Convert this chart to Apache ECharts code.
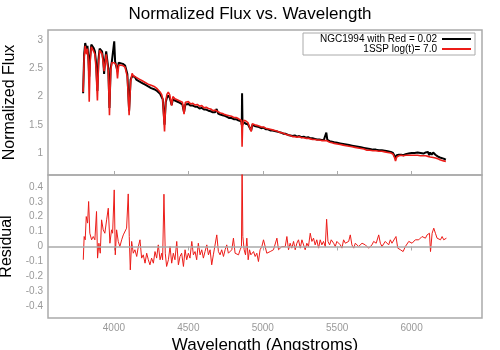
<!DOCTYPE html>
<html>
<head>
<meta charset="utf-8">
<script src="https://cdn.jsdelivr.net/npm/echarts@6/dist/echarts.min.js"></script>
<style>
  html, body { margin: 0; padding: 0; background: #fff; }
  #chart { width: 500px; height: 350px; }
</style>
</head>
<body>
<div id="chart"></div>
<script>
// spectrum sample points (Angstroms)
const wavelength = [3793, 3800, 3807, 3815, 3822, 3828, 3834, 3840, 3848, 3856, 3864, 3872, 3880, 3889, 3896, 3904, 3912, 3920, 3928, 3934, 3940, 3948, 3955, 3962, 3970, 3978, 3986, 3995, 4002, 4008, 4016, 4024, 4032, 4045, 4060, 4075, 4090, 4102,
  4112, 4122, 4130, 4140, 4150, 4160, 4170, 4180, 4190, 4200, 4210, 4220, 4230, 4240, 4250, 4260, 4270, 4280, 4290, 4300, 4310, 4320, 4328, 4340, 4348, 4356, 4365,
  4375, 4388, 4396, 4410, 4420, 4435, 4445, 4460, 4471, 4480, 4490, 4500, 4515, 4530, 4545, 4560, 4575, 4590, 4605, 4620, 4635, 4650, 4665, 4680, 4690, 4700, 4715, 4730, 4745, 4760, 4775, 4790, 4805, 4820, 4835, 4845, 4855, 4859, 4861, 4864, 4870, 4878, 4885, 4892, 4900, 4910, 4922, 4930, 4945, 4960, 4975, 4990,
  5005, 5020, 5035, 5050, 5065, 5080, 5095, 5110, 5125, 5140, 5155, 5170, 5185, 5200, 5215, 5230, 5245, 5260, 5275, 5290, 5305, 5320, 5335, 5350, 5365, 5380, 5395, 5410, 5420, 5427, 5434, 5450, 5465, 5480,
  5500, 5520, 5540, 5560, 5580, 5600, 5620, 5640, 5660, 5680, 5700, 5720, 5740, 5760, 5780, 5800, 5820, 5840, 5860, 5875, 5885, 5892, 5900, 5915, 5930, 5945, 5960, 5980,
  6000, 6020, 6040, 6060, 6080, 6095, 6110, 6118, 6125, 6135, 6145, 6160, 6175, 6190, 6200, 6215, 6230];
// NGC1994 observed flux
const observed = [2.06, 2.75, 2.95, 2.85, 2.90, 2.70, 2.35, 2.70, 2.92, 2.90, 2.86, 2.80, 2.60, 2.10, 2.65, 2.85, 2.86, 2.80, 2.65, 2.40, 2.62, 2.80, 2.77, 2.50, 1.80, 2.50, 2.62, 2.65, 2.98, 2.62, 2.60, 2.45, 2.60, 2.60, 2.58, 2.55, 2.40, 1.75,
  2.30, 2.36, 2.33, 2.35, 2.30, 2.31, 2.27, 2.28, 2.24, 2.25, 2.21, 2.22, 2.18, 2.19, 2.15, 2.16, 2.13, 2.12, 2.10, 2.09, 2.05, 2.02, 1.95, 1.50, 1.90, 1.98, 2.02,
  1.98, 1.85, 1.95, 1.93, 1.92, 1.90, 1.91, 1.86, 1.72, 1.86, 1.85, 1.87, 1.84, 1.84, 1.82, 1.82, 1.79, 1.80, 1.77, 1.77, 1.75, 1.74, 1.72, 1.72, 1.78, 1.70, 1.68, 1.67, 1.66, 1.64, 1.62, 1.62, 1.60, 1.60, 1.58, 1.57, 1.56, 1.50, 2.06, 1.50, 1.55, 1.53, 1.52, 1.54, 1.51, 1.50, 1.40, 1.50, 1.48, 1.47, 1.46, 1.44,
  1.45, 1.42, 1.42, 1.40, 1.40, 1.39, 1.38, 1.37, 1.36, 1.34, 1.34, 1.32, 1.31, 1.30, 1.31, 1.29, 1.30, 1.28, 1.29, 1.27, 1.28, 1.26, 1.26, 1.25, 1.24, 1.24, 1.23, 1.23, 1.24, 1.36, 1.23, 1.21, 1.20, 1.19,
  1.18, 1.17, 1.16, 1.15, 1.14, 1.13, 1.12, 1.11, 1.10, 1.09, 1.08, 1.07, 1.06, 1.06, 1.05, 1.05, 1.04, 1.03, 1.02, 1.00, 0.95, 0.91, 0.96, 0.97, 0.97, 0.96, 0.98, 0.99,
  1.00, 1.00, 1.01, 1.00, 0.99, 1.01, 1.02, 0.96, 1.01, 0.97, 1.01, 0.97, 0.94, 0.92, 0.91, 0.90, 0.88];
// 1SSP log(t)=7.0 model flux
const model = [2.08, 2.70, 2.90, 2.75, 2.85, 2.65, 1.91, 2.60, 2.88, 2.86, 2.80, 2.75, 2.50, 1.93, 2.55, 2.82, 2.84, 2.76, 2.60, 2.45, 2.58, 2.75, 2.72, 2.45, 1.67, 2.45, 2.60, 2.62, 2.60, 2.60, 2.56, 2.32, 2.56, 2.57, 2.55, 2.52, 2.35, 1.67,
  2.25, 2.41, 2.37, 2.39, 2.34, 2.35, 2.31, 2.32, 2.28, 2.29, 2.25, 2.26, 2.22, 2.23, 2.20, 2.19, 2.18, 2.15, 2.14, 2.12, 2.08, 2.04, 1.96, 1.38, 1.92, 2.04, 2.08,
  2.03, 1.84, 2.00, 1.96, 1.97, 1.93, 1.95, 1.90, 1.69, 1.90, 1.88, 1.91, 1.87, 1.88, 1.85, 1.86, 1.83, 1.84, 1.80, 1.81, 1.79, 1.78, 1.75, 1.76, 1.74, 1.73, 1.71, 1.70, 1.68, 1.67, 1.66, 1.65, 1.63, 1.63, 1.61, 1.60, 1.58, 1.45, 1.11, 1.45, 1.58, 1.56, 1.57, 1.55, 1.54, 1.52, 1.38, 1.52, 1.50, 1.49, 1.48, 1.46,
  1.46, 1.44, 1.43, 1.42, 1.41, 1.40, 1.39, 1.37, 1.36, 1.35, 1.33, 1.32, 1.31, 1.29, 1.29, 1.28, 1.29, 1.27, 1.27, 1.26, 1.26, 1.25, 1.24, 1.24, 1.23, 1.23, 1.22, 1.22, 1.22, 1.22, 1.21, 1.19, 1.18, 1.17,
  1.16, 1.15, 1.14, 1.13, 1.12, 1.11, 1.10, 1.09, 1.08, 1.07, 1.05, 1.05, 1.04, 1.04, 1.03, 1.03, 1.02, 1.01, 1.00, 0.98, 0.92, 0.86, 0.93, 0.95, 0.96, 0.95, 0.96, 0.96,
  0.96, 0.96, 0.96, 0.95, 0.95, 0.95, 0.94, 0.94, 0.93, 0.92, 0.92, 0.91, 0.90, 0.88, 0.87, 0.86, 0.85];

// residual sample points
const residWavelength = [3794, 3800, 3807, 3814, 3823, 3830, 3838, 3850, 3861, 3872, 3883, 3890, 3899, 3908, 3917, 3928, 3939, 3951, 3962, 3973, 3984, 3991, 4002, 4009, 4018, 4029, 4040, 4052, 4063, 4074, 4085, 4096, 4103, 4110, 4119, 4130, 4141, 4153, 4164, 4175, 4186, 4197, 4209, 4220, 4231, 4242, 4253, 4265, 4276, 4287, 4298, 4310, 4321, 4327, 4336, 4345, 4354, 4366, 4377, 4388, 4399, 4410, 4422, 4433, 4444, 4455, 4467, 4478, 4489, 4500, 4511, 4523, 4534, 4545, 4556, 4567, 4579, 4590, 4601, 4612, 4624, 4635, 4646, 4657, 4668, 4680, 4691, 4702, 4713, 4724, 4736, 4747, 4758, 4769, 4781, 4792, 4803, 4814, 4826, 4837, 4848, 4857, 4861, 4866, 4875, 4884, 4893, 4902, 4911, 4920, 4929, 4938, 4949, 4960, 4971, 4982, 4994, 5005, 5016, 5027, 5039, 5050, 5061, 5072, 5083, 5095, 5106, 5117, 5128, 5140, 5151, 5162, 5173, 5184, 5195, 5207, 5218, 5229, 5240, 5252, 5263, 5274, 5285, 5296, 5307, 5319, 5330, 5341, 5352, 5363, 5375, 5386, 5397, 5408, 5420, 5429, 5438, 5449, 5460, 5476, 5487, 5498, 5510, 5521, 5532, 5543, 5555, 5566, 5577, 5588, 5599, 5611, 5622, 5633, 5644, 5655, 5667, 5678, 5689, 5700, 5711, 5723, 5734, 5745, 5762, 5779, 5790, 5801, 5812, 5823, 5835, 5846, 5857, 5868, 5880, 5895, 5907, 5925, 5943, 5958, 5970, 5981, 5992, 6003, 6014, 6025, 6037, 6048, 6059, 6070, 6082, 6093, 6104, 6120, 6127, 6138, 6149, 6160, 6171, 6182, 6194, 6205, 6216, 6234];
const residual = [-0.089, 0.067, 0.045, 0.201, 0.157, 0.302, 0.089, 0.045, 0.067, 0.045, 0.235, -0.078, 0.022, -0.045, 0.179, 0.112, 0.089, 0.179, 0.257, 0.022, 0.112, 0.089, 0.380, -0.056, 0.112, 0.034, 0.000, 0.045, 0.078, 0.089, 0.123, 0.353, 0.067, -0.157, 0.034, -0.045, -0.022, -0.067, 0.000, 0.045, -0.078, -0.056, -0.112, -0.045, -0.089, -0.123, -0.078, -0.112, -0.034, -0.078, 0.011, -0.089, -0.045, -0.089, 0.351, -0.045, -0.134, -0.089, 0.000, -0.112, -0.045, -0.089, 0.034, -0.123, -0.067, -0.045, -0.134, -0.022, -0.089, -0.045, -0.078, 0.034, -0.056, -0.034, -0.089, 0.022, -0.056, -0.022, -0.078, -0.034, 0.011, -0.056, -0.022, -0.123, -0.056, -0.045, 0.078, -0.034, -0.056, -0.022, -0.067, -0.022, 0.011, -0.045, -0.056, -0.022, 0.056, -0.045, -0.034, -0.056, -0.022, 0.000, 0.620, 0.067, -0.022, -0.056, 0.056, -0.089, -0.022, -0.056, -0.045, -0.034, -0.067, -0.045, -0.101, -0.022, 0.000, 0.045, 0.034, -0.045, -0.056, -0.034, -0.045, -0.022, -0.022, 0.056, -0.022, -0.011, 0.000, 0.011, 0.000, 0.067, -0.022, 0.022, -0.011, 0.034, -0.022, 0.022, 0.045, -0.011, 0.045, 0.034, -0.022, 0.022, 0.000, 0.089, 0.034, 0.056, 0.011, 0.045, -0.011, 0.045, 0.011, 0.034, 0.000, 0.183, 0.034, 0.011, 0.045, 0.022, 0.000, 0.034, 0.022, 0.011, -0.011, 0.045, 0.022, 0.011, 0.034, 0.078, 0.011, -0.011, 0.022, 0.034, 0.000, 0.000, 0.022, 0.034, 0.011, 0.022, -0.011, 0.000, 0.011, 0.034, 0.022, 0.078, 0.022, 0.000, 0.011, 0.034, 0.034, 0.011, 0.045, 0.022, 0.011, 0.067, -0.011, -0.022, -0.034, 0.000, -0.011, 0.034, 0.045, 0.022, 0.034, 0.045, 0.056, 0.045, 0.056, 0.067, 0.067, 0.056, 0.078, 0.089, -0.034, 0.089, 0.123, 0.089, 0.056, 0.067, 0.045, 0.067, 0.045, 0.056];

const xTicks = [4000, 4500, 5000, 5500, 6000];
const fluxTicks = [1, 1.5, 2, 2.5, 3];
const residTicks = [-0.4, -0.3, -0.2, -0.1, 0, 0.1, 0.2, 0.3, 0.4];

const pairs = (xs, ys) => xs.map((x, i) => [x, ys[i]]);

const FONT = '"Liberation Sans", Arial, sans-serif';
const GREY = '#aaaaaa';
const RED = '#ec1c18';

const chart = echarts.init(document.getElementById('chart'), null, { renderer: 'canvas' });

const axisBase = {
  axisLine: { show: false },
  splitLine: { show: false },
};
const plainLabel = v => String(v);

chart.setOption({
  animation: false,
  textStyle: { fontFamily: FONT },
  title: {
    text: 'Normalized Flux vs. Wavelength',
    left: 'center',
    top: 1,
    textStyle: { fontSize: 17, fontWeight: 'normal', color: '#000', fontFamily: FONT }
  },
  legend: {
    orient: 'vertical',
    right: 25,
    top: 33,
    align: 'right',
    icon: 'rect',
    itemWidth: 29,
    itemHeight: 2,
    itemGap: 0,
    padding: [1, 4, 1, 5],
    borderColor: GREY,
    borderWidth: 1,
    backgroundColor: '#fff',
    textStyle: { fontSize: 10, color: '#000', width: 129, align: 'right', fontFamily: FONT, lineHeight: 9 },
    data: ['NGC1994 with Red = 0.02', '1SSP log(t)= 7.0']
  },
  grid: [
    { left: 48, right: 18, top: 30, height: 145, show: true, borderColor: GREY, borderWidth: 1.5, backgroundColor: 'transparent', outerBoundsMode: 'none' },
    { left: 48, right: 18, top: 175, height: 143, show: true, borderColor: GREY, borderWidth: 1.5, backgroundColor: 'transparent', outerBoundsMode: 'none' }
  ],
  xAxis: [
    // upper panel, ticks pointing up from the divider
    { ...axisBase, gridIndex: 0, type: 'value', min: 3557, max: 6473, position: 'bottom',
      axisTick: { show: true, inside: true, length: 4, customValues: xTicks, lineStyle: { color: GREY } },
      axisLabel: { show: false } },
    // lower panel, ticks pointing down from the divider
    { ...axisBase, gridIndex: 1, type: 'value', min: 3557, max: 6473, position: 'top',
      axisTick: { show: true, inside: true, length: 4, customValues: xTicks, lineStyle: { color: GREY } },
      axisLabel: { show: false } },
    // lower panel labels
    { ...axisBase, gridIndex: 1, type: 'value', min: 3557, max: 6473, position: 'bottom',
      axisTick: { show: false },
      axisLabel: { color: '#999', fontSize: 10, margin: 5, customValues: xTicks, formatter: plainLabel },
      name: 'Wavelength (Angstroms)', nameLocation: 'middle', nameGap: 19,
      nameTextStyle: { fontSize: 17, color: '#000', fontFamily: FONT } }
  ],
  yAxis: [
    { ...axisBase, gridIndex: 0, type: 'value', min: 0.61, max: 3.18,
      axisTick: { show: false },
      axisLabel: { color: '#999', fontSize: 10, margin: 5, customValues: fluxTicks, formatter: plainLabel },
      name: 'Normalized Flux', nameLocation: 'middle', nameRotate: 90, nameGap: 30,
      nameTextStyle: { fontSize: 16, color: '#000', fontFamily: FONT } },
    { ...axisBase, gridIndex: 1, type: 'value', min: -0.48, max: 0.48,
      axisTick: { show: false },
      axisLabel: { color: '#999', fontSize: 10, margin: 5, customValues: residTicks, formatter: plainLabel },
      name: 'Residual', nameLocation: 'middle', nameRotate: 90, nameGap: 32,
      nameTextStyle: { fontSize: 16, color: '#000', fontFamily: FONT } }
  ],
  series: [
    {
      name: 'NGC1994 with Red = 0.02', type: 'line', xAxisIndex: 0, yAxisIndex: 0,
      data: pairs(wavelength, observed), symbol: 'none',
      lineStyle: { color: '#000', width: 2 }, itemStyle: { color: '#000' }
    },
    {
      name: '1SSP log(t)= 7.0', type: 'line', xAxisIndex: 0, yAxisIndex: 0,
      data: pairs(wavelength, model), symbol: 'none',
      lineStyle: { color: RED, width: 1.6 }, itemStyle: { color: RED }
    },
    {
      name: 'residual', type: 'line', xAxisIndex: 1, yAxisIndex: 1,
      data: pairs(residWavelength, residual), symbol: 'none',
      lineStyle: { color: RED, width: 1 },
      markLine: {
        silent: true, symbol: 'none', label: { show: false },
        lineStyle: { color: GREY, type: 'solid', width: 1.5 },
        data: [{ yAxis: 0 }]
      },
      z: 3
    }
  ]
});
</script>
</body>
</html>
